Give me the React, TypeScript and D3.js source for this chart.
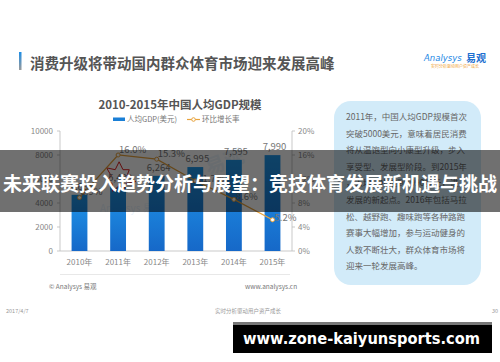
import React from "react"
import * as d3 from "d3"

// chart data
const years = ["2010年", "2011年", "2012年", "2013年", "2014年", "2015年"]
const gdp = [4682, 5433, 6264, 6995, 7595, 7990]
const growth = [8.9, 16.0, 15.3, 11.7, 8.6, 5.2]
const leftTicks = [0, 2000, 4000, 6000, 8000, 10000]
const rightTicks = [0, 4, 8, 12, 16, 20]

const boxLines = [
    "2011年，中国人均GDP规模首次",
    "突破5000美元，意味着居民消费",
    "将从温饱型向小康型升级，步入",
    "享受型、发展型阶段。到2015年",
    "，人均GDP达到7990美元，进入",
    "发展的新起点。2016年包括马拉",
    "松、越野跑、趣味跑等各种路跑",
    "赛事大幅增加，参与运动健身的",
    "人数不断壮大，群众体育市场将",
    "迎来一轮发展高峰。",
]

// radii of the red starburst around the 2011 value
const burstRadii = [16, 9, 13, 8, 17, 9, 12, 8, 15, 9, 13, 8, 16, 9]

const CJK = "'Noto Sans CJK SC', 'Noto Sans', sans-serif"

export default function App() {
    const W = 500
    const H = 362

    const x = d3
        .scaleBand()
        .domain(years)
        .range([60, 292])
        .paddingInner(0.59)
        .paddingOuter(0.3)
    const yL = d3.scaleLinear().domain([0, 10000]).range([251, 131])
    const yR = d3.scaleLinear().domain([0, 20]).range([251, 131])
    const bw = x.bandwidth()
    const cx = (d) => x(d) + bw / 2

    const line = d3
        .line()
        .x((d, i) => cx(years[i]))
        .y((d) => yR(d))

    const burst = d3
        .lineRadial()
        .angle((d, i) => (i / burstRadii.length) * Math.PI * 2)
        .radius((d) => d)
        .curve(d3.curveLinearClosed)

    const fmt = d3.format(",")

    return (
        <svg
            width={W}
            height={H}
            style={{ position: "absolute", left: 0, top: 0, background: "#fff" }}
            fontFamily={CJK}
        >
            <defs>
                <linearGradient id="barGrad" x1="0" y1="0" x2="0" y2="1">
                    <stop offset="0" stopColor="#1f97ea" />
                    <stop offset="1" stopColor="#1668c8" />
                </linearGradient>
                <linearGradient id="markGrad" x1="0" y1="0" x2="0" y2="1">
                    <stop offset="0" stopColor="#1e8ee6" />
                    <stop offset="1" stopColor="#9a9a9a" />
                </linearGradient>
            </defs>
            <rect width={W} height={H} fill="#fff" />

            {/* slide title */}
            <rect x={19} y={52} width={2.5} height={18} fill="url(#markGrad)" />
            <text x={30} y={68.5} fontSize={14.5} fontWeight="bold" fill="#555">
                消费升级将带动国内群众体育市场迎来发展高峰
            </text>

            {/* logo */}
            <text x={424} y={61} fontSize={8.5} fontStyle="italic" fill="#1e88e5" fontFamily="'DejaVu Sans', sans-serif">
                Analysys
            </text>
            <text x={466} y={62} fontSize={10} fontWeight="bold" fill="#1e6fd0">
                易观
            </text>
            <text x={431} y={67.5} fontSize={4} fill="#f0a030">
                实时分析驱动用户资产成长
            </text>

            {/* chart title + legend */}
            <text x={180} y={109} fontSize={11.5} fontWeight="bold" fill="#555" textAnchor="middle">
                2010-2015年中国人均GDP规模
            </text>
            <rect x={113} y={117.5} width={12} height={3.5} fill="#1a7fd6" />
            <text x={127} y={122} fontSize={7.5} fill="#777">
                人均GDP(美元)
            </text>
            <line x1={187} x2={200} y1={119.5} y2={119.5} stroke="#e8a33d" strokeWidth={1.2} />
            <circle cx={193.5} cy={119.5} r={1.8} fill="#fff" stroke="#e8a33d" strokeWidth={1} />
            <text x={202} y={122} fontSize={7.5} fill="#777">
                环比增长率
            </text>

            {/* watermarks */}
            <text x={205} y={172} fontSize={20} fontWeight="bold" fill="#1e88e5" opacity={0.08} transform="rotate(-20 215 165)">
                易观
            </text>
            <text x={100} y={212} fontSize={10} fill="#1e88e5" opacity={0.1}>
                Analysys 易观
            </text>

            {/* axes */}
            <line x1={60} x2={60} y1={131} y2={251} stroke="#bbb" strokeWidth={0.8} />
            <line x1={292} x2={292} y1={131} y2={251} stroke="#bbb" strokeWidth={0.8} />
            <line x1={60} x2={292} y1={251} y2={251} stroke="#bbb" strokeWidth={0.8} />
            {leftTicks.map((t) => (
                <g key={"l" + t}>
                    <line x1={57} x2={60} y1={yL(t)} y2={yL(t)} stroke="#bbb" strokeWidth={0.8} />
                    <text x={53} y={yL(t) + 3} fontSize={8} fill="#888" textAnchor="end">
                        {t}
                    </text>
                </g>
            ))}
            {rightTicks.map((t) => (
                <g key={"r" + t}>
                    <line x1={292} x2={295} y1={yR(t)} y2={yR(t)} stroke="#bbb" strokeWidth={0.8} />
                    <text x={298} y={yR(t) + 3} fontSize={8} fill="#888">
                        {t + "%"}
                    </text>
                </g>
            ))}
            {years.map((y) => (
                <text key={y} x={cx(y)} y={265} fontSize={8} fill="#888" textAnchor="middle">
                    {y}
                </text>
            ))}

            {/* bars */}
            {gdp.map((v, i) => (
                <rect
                    key={"b" + i}
                    x={x(years[i])}
                    y={yL(v)}
                    width={bw}
                    height={yL(0) - yL(v)}
                    fill="url(#barGrad)"
                />
            ))}

            {/* starburst highlight on 2011 */}
            <path
                d={burst(burstRadii)}
                transform={`translate(${cx(years[1]) + 1},${yL(gdp[1]) - 8})`}
                fill="#fff"
                stroke="#e02020"
                strokeWidth={1}
            />
            {gdp.map((v, i) => (
                <text
                    key={"bl" + i}
                    x={cx(years[i]) + 2}
                    y={yL(v) - 5}
                    fontSize={9.5}
                    fill="#777"
                    textAnchor="middle"
                >
                    {fmt(v)}
                </text>
            ))}

            {/* growth line */}
            <path d={line(growth)} fill="none" stroke="#e8a33d" strokeWidth={1.2} />
            {growth.map((v, i) => (
                <circle
                    key={"p" + i}
                    cx={cx(years[i])}
                    cy={yR(v)}
                    r={2}
                    fill="#fff"
                    stroke="#e8a33d"
                    strokeWidth={1}
                />
            ))}
            {growth.map((v, i) =>
                i < 3 ? (
                    <text key={"gl" + i} x={cx(years[i]) + 1} y={yR(v) - 2.5} fontSize={9.5} fill="#777">
                        {v.toFixed(1) + "%"}
                    </text>
                ) : (
                    <text key={"gl" + i} x={cx(years[i]) + 2} y={yR(v) + 1} fontSize={9.5} fill="#777">
                        {v.toFixed(1) + "%"}
                    </text>
                )
            )}

            {/* source line */}
            <line x1={60} x2={290} y1={274.5} y2={274.5} stroke="#e2e2e2" strokeWidth={0.8} />
            <text x={49} y={289} fontSize={6.5} fill="#777">
                © Analysys 易观
            </text>
            <text x={245} y={289} fontSize={6.5} fill="#777">
                www.analysys.cn
            </text>

            {/* text box */}
            <rect x={334} y={101} width={147} height={184} rx={17} fill="#d2ebf9" />
            {boxLines.map((s, i) => (
                <text key={"t" + i} x={346} y={120 + i * 16.6} fontSize={8.5} fill="#666">
                    {s}
                </text>
            ))}

            {/* footer */}
            <text x={6} y={313} fontSize={5.5} fill="#999">
                2017/4/7
            </text>
            <text x={215} y={313} fontSize={5.5} fill="#999">
                实时分析驱动用户资产成长
            </text>
            <text x={492} y={313} fontSize={5.5} fill="#999">
                30
            </text>

            {/* overlay band with headline */}
            <rect x={0} y={150} width={W} height={62} fill="#000" opacity={0.56} />
            <text
                x={250}
                y={191}
                fontSize={19}
                fontWeight="bold"
                fill="#fff"
                textAnchor="middle"
                textLength={494}
                lengthAdjust="spacingAndGlyphs"
            >
                未来联赛投入趋势分析与展望：竞技体育发展新机遇与挑战
            </text>

            {/* url banner */}
            <rect x={233} y={322} width={259} height={3} fill="#777" />
            <rect x={233} y={325} width={259} height={28} fill="#000" />
            <text
                x={243}
                y={343.5}
                fontSize={16}
                fontWeight="bold"
                fill="#fff"
                fontFamily="'DejaVu Sans', sans-serif"
                textLength={237}
                lengthAdjust="spacingAndGlyphs"
            >
                www.zone-kaiyunsports.com
            </text>
        </svg>
    )
}
